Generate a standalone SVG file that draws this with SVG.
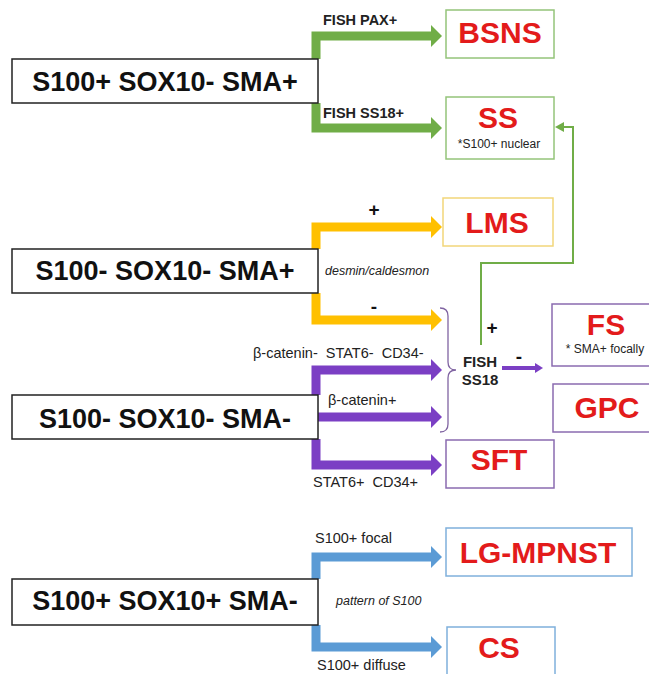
<svg xmlns="http://www.w3.org/2000/svg" width="649" height="674" viewBox="0 0 649 674">
<defs>
<style>
.q{fill:#fff;stroke:#222;stroke-width:1.5}
.qt{font-family:"Liberation Sans",Arial,sans-serif;font-weight:bold;font-size:27px;fill:#111;text-anchor:middle}
.r{fill:#fff;stroke-width:1.5}
.rt{font-family:"Liberation Sans",Arial,sans-serif;font-weight:bold;font-size:30px;fill:#e31b1b;text-anchor:middle}
.note{font-family:"Liberation Sans",Arial,sans-serif;font-size:12px;fill:#222;text-anchor:middle}
.lb{font-family:"Liberation Sans",Arial,sans-serif;font-size:14.5px;fill:#222}
.lbb{font-family:"Liberation Sans",Arial,sans-serif;font-size:14.5px;font-weight:bold;fill:#222}
.it{font-family:"Liberation Sans",Arial,sans-serif;font-size:12.5px;font-style:italic;fill:#222}
.sg{font-family:"Liberation Sans",Arial,sans-serif;font-size:19px;font-weight:bold;fill:#111;text-anchor:middle}
.thick{fill:none;stroke-width:9;stroke-linejoin:miter}
.g{stroke:#70ad47}.y{stroke:#ffc000}.p{stroke:#7b3fc4}.b{stroke:#5b9bd5}
</style>
<marker id="hg" markerUnits="userSpaceOnUse" markerWidth="12" markerHeight="22" refX="0" refY="11" orient="auto"><path d="M0,0 L11,11 L0,22 Z" fill="#70ad47"/></marker>
<marker id="hy" markerUnits="userSpaceOnUse" markerWidth="12" markerHeight="22" refX="0" refY="11" orient="auto"><path d="M0,0 L11,11 L0,22 Z" fill="#ffc000"/></marker>
<marker id="hp" markerUnits="userSpaceOnUse" markerWidth="12" markerHeight="22" refX="0" refY="11" orient="auto"><path d="M0,0 L11,11 L0,22 Z" fill="#7b3fc4"/></marker>
<marker id="hb" markerUnits="userSpaceOnUse" markerWidth="12" markerHeight="22" refX="0" refY="11" orient="auto"><path d="M0,0 L11,11 L0,22 Z" fill="#5b9bd5"/></marker>
<marker id="hgs" markerUnits="userSpaceOnUse" markerWidth="10" markerHeight="10" refX="0" refY="5" orient="auto"><path d="M0,0 L9,5 L0,10 Z" fill="#70ad47"/></marker>
<marker id="hps" markerUnits="userSpaceOnUse" markerWidth="10" markerHeight="12" refX="0" refY="6" orient="auto"><path d="M0,1 L8,6 L0,11 Z" fill="#7b3fc4"/></marker>
</defs>
<rect width="649" height="674" fill="#fff"/>

<g id="connectors">
<path class="thick g" d="M316,59 V36 H431" marker-end="url(#hg)"/>
<path class="thick g" d="M316,103 V128 H431" marker-end="url(#hg)"/>
<path class="thick y" d="M316,249 V227 H431" marker-end="url(#hy)"/>
<path class="thick y" d="M316,293 V320 H431" marker-end="url(#hy)"/>
<path class="thick p" d="M316,395 V370 H431" marker-end="url(#hp)"/>
<path class="thick p" d="M318,417 H431" marker-end="url(#hp)"/>
<path class="thick p" d="M316,439 V465 H431" marker-end="url(#hp)"/>
<path class="thick b" d="M316,579 V557 H431" marker-end="url(#hb)"/>
<path class="thick b" d="M316,625 V647 H431" marker-end="url(#hb)"/>
<path d="M481,345 V263 H573 V127 H564" fill="none" stroke="#70ad47" stroke-width="2" marker-end="url(#hgs)"/>
<path d="M502,368 H535" fill="none" stroke="#7b3fc4" stroke-width="4" marker-end="url(#hps)"/>
<path d="M440,308 Q448,308 448,316 L448,362 Q448,370 456,370 Q448,370 448,378 L448,424 Q448,432 440,432" fill="none" stroke="#8064a2" stroke-width="1.3"/>
<text class="lbb" x="323" y="25">FISH PAX+</text>
<text class="lbb" x="323" y="118">FISH SS18+</text>
<text class="sg" x="374" y="216">+</text>
<text class="sg" x="374" y="313">-</text>
<text class="it" x="325" y="275">desmin/caldesmon</text>
<text class="lb" x="253" y="358" xml:space="preserve">β-catenin-  STAT6-  CD34-</text>
<text class="lb" x="328" y="405">β-catenin+</text>
<text class="lb" x="313" y="487" xml:space="preserve">STAT6+  CD34+</text>
<text class="sg" x="492" y="334">+</text>
<text class="sg" x="519" y="363">-</text>
<text class="lb" x="315" y="543">S100+ focal</text>
<text class="it" x="336" y="605">pattern of S100</text>
<text class="lb" x="317" y="670">S100+ diffuse</text>
</g>

<g id="n-smaplus1">
<rect class="q" x="12" y="59" width="306" height="44"/>
<text class="qt" x="165" y="91">S100+ SOX10- SMA+</text>
</g>
<g id="n-smaplus2">
<rect class="q" x="12" y="249" width="306" height="44"/>
<text class="qt" x="165" y="280">S100- SOX10- SMA+</text>
</g>
<g id="n-smaminus1">
<rect class="q" x="12" y="395" width="306" height="44"/>
<text class="qt" x="165" y="428">S100- SOX10- SMA-</text>
</g>
<g id="n-smaminus2">
<rect class="q" x="12" y="579" width="306" height="46"/>
<text class="qt" x="165" y="610">S100+ SOX10+ SMA-</text>
</g>

<g id="n-bsns">
<rect class="r" x="446" y="10" width="108" height="48" stroke="#94c47a"/>
<text class="rt" x="500" y="43">BSNS</text>
</g>
<g id="n-ss">
<rect class="r" x="446" y="97" width="108" height="62" stroke="#94c47a"/>
<text class="rt" x="498" y="128">SS</text>
<text class="note" x="499" y="148">*S100+ nuclear</text>
</g>
<g id="n-lms">
<rect class="r" x="443" y="198" width="110" height="48" stroke="#f2d67a"/>
<text class="rt" x="497" y="233">LMS</text>
</g>
<g id="n-fish">
<text class="lbb" x="480" y="367" text-anchor="middle" style="font-size:15px">FISH</text>
<text class="lbb" x="480" y="385" text-anchor="middle" style="font-size:15px">SS18</text>
</g>
<g id="n-fs">
<rect class="r" x="552" y="304" width="110" height="62" stroke="#8a6bb0"/>
<text class="rt" x="606" y="335">FS</text>
<text class="note" x="605" y="353">* SMA+ focally</text>
</g>
<g id="n-gpc">
<rect class="r" x="553" y="384" width="110" height="48" stroke="#8a6bb0"/>
<text class="rt" x="607" y="418">GPC</text>
</g>
<g id="n-sft">
<rect class="r" x="446" y="440" width="108" height="48" stroke="#8a6bb0"/>
<text class="rt" x="499" y="470">SFT</text>
</g>
<g id="n-lgmpnst">
<rect class="r" x="446" y="528" width="186" height="48" stroke="#7fb0dc"/>
<text class="rt" x="538" y="563">LG-MPNST</text>
</g>
<g id="n-cs">
<rect class="r" x="447" y="627" width="108" height="60" stroke="#7fb0dc"/>
<text class="rt" x="499" y="658">CS</text>
</g>
</svg>
